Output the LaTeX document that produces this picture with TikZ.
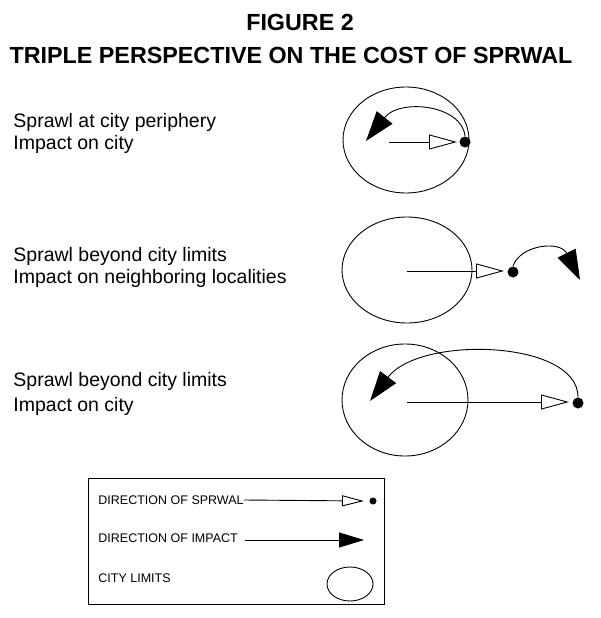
\documentclass[tikz,border=0pt]{standalone}
\usepackage{fontspec}
\setmainfont{Liberation Sans}
\usetikzlibrary{arrows.meta}
\begin{document}
\begin{tikzpicture}[x=1pt,y=-1pt,line width=0.9pt,
  lbl/.style={anchor=west,inner sep=0pt,font=\fontsize{19.5}{22}\selectfont},
  leg/.style={anchor=west,inner sep=0pt,font=\fontsize{12.5}{15}\selectfont},
  ttl/.style={inner sep=0pt,font=\bfseries\fontsize{23.3}{26}\selectfont},
  sprawl/.style={-{Triangle[open,length=28,width=15]},line width=0.9pt},
  impact/.style={-{Triangle[length=30,width=20]},line width=0.9pt},
  dotn/.style={circle,fill,inner sep=0pt,minimum size=11pt}]
\useasboundingbox (0,0) rectangle (600,618);
\node[ttl] (t1) at (300,22) {FIGURE 2};
\node[ttl] (t2) at (291,55) {TRIPLE PERSPECTIVE ON THE COST OF SPRWAL};
\node[lbl] (l1a) at (13,122) {Sprawl at city periphery};
\node[lbl] (l1b) at (13,144) {Impact on city};
\node[lbl] (l2a) at (13,256) {Sprawl beyond city limits};
\node[lbl] (l2b) at (13,278) {Impact on neighboring localities};
\node[lbl] (l3a) at (13,381) {Sprawl beyond city limits};
\node[lbl] (l3b) at (13,406) {Impact on city};
% row 1
\draw (406,140) ellipse [x radius=63,y radius=53];
\coordinate (s1) at (389,142);
\node[dotn] (d1) at (465,142) {};
\coordinate (i1) at (366,141);
\draw[sprawl] (s1) -- (457,142);
\draw[impact] (d1.north) .. controls (462,105) and (400,98) .. (i1);
% row 2
\draw (407,270) ellipse [x radius=65,y radius=53];
\coordinate (s2) at (407,271);
\node[dotn] (d2) at (513,272) {};
\coordinate (i2) at (580,280);
\draw[sprawl] (s2) -- (504,271);
\draw[impact] (d2.north) .. controls (520,245) and (560,240) .. (i2);
% row 3
\draw (405,400) ellipse [x radius=63,y radius=56];
\coordinate (s3) at (407,402);
\node[dotn] (d3) at (578,403) {};
\coordinate (i3) at (370,401);
\draw[sprawl] (s3) -- (569,402);
\draw[impact] (d3.north) .. controls (578,340) and (420,335) .. (i3);
% legend
\node[draw,line width=0.9pt,minimum width=296pt,minimum height=126pt,inner sep=0pt] (box) at (236,541) {};
\node[leg] (g1) at (98,500) {DIRECTION OF SPRWAL};
\node[leg] (g2) at (98,538) {DIRECTION OF IMPACT};
\node[leg] (g3) at (98,578) {CITY LIMITS};
\node[dotn,minimum size=7pt] (gd) at (373,501) {};
\draw[sprawl,-{Triangle[open,length=22,width=11]}] (g1.east) -- (364,501);
\coordinate (gi) at (364,540);
\draw[impact,-{Triangle[length=25,width=15]}] (g2.east)++(7,2) -- (gi);
\draw (350,584) ellipse [x radius=23,y radius=17];
\end{tikzpicture}
\end{document}
